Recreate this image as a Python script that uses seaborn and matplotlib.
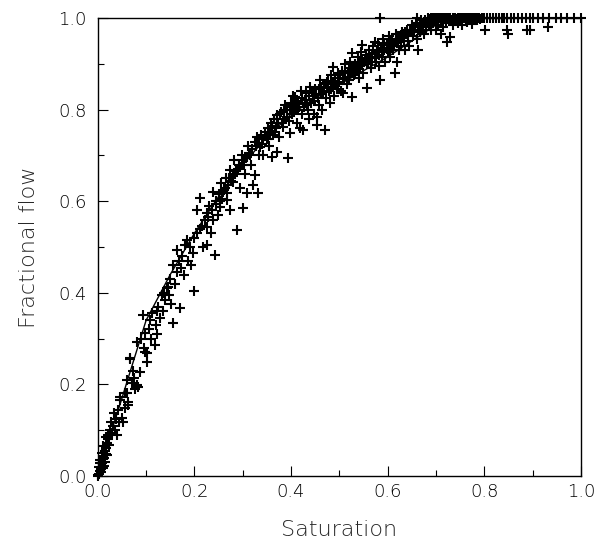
import matplotlib
matplotlib.use("Agg")
import matplotlib.pyplot as plt
import seaborn as sns
import pandas as pd
from matplotlib.ticker import MultipleLocator, FixedLocator, FixedFormatter

# ---------------- data ----------------
curve_saturation = [0.0, 0.02, 0.05, 0.10, 0.15, 0.20, 0.25, 0.30, 0.35, 0.40,
                    0.45, 0.50, 0.55, 0.60, 0.65, 0.70, 0.72, 1.0]
curve_flow = [0.0, 0.07, 0.17, 0.34, 0.44, 0.53, 0.61, 0.68, 0.74, 0.79,
              0.825, 0.855, 0.885, 0.915, 0.95, 0.985, 1.0, 1.0]

sat_low = [0.000, 0.002, 0.004, 0.003, 0.006, 0.008, 0.005, 0.010, 0.012, 0.009,
           0.014, 0.015, 0.018, 0.011, 0.019, 0.020, 0.022, 0.017, 0.024, 0.021,
           0.025, 0.027, 0.030, 0.031, 0.033, 0.035, 0.037, 0.039, 0.041, 0.043,
           0.001, 0.007, 0.013, 0.016, 0.004]
flow_low = [0.000, 0.005, 0.012, 0.020, 0.008, 0.028, 0.035, 0.018, 0.040, 0.050,
            0.030, 0.055, 0.062, 0.065, 0.072, 0.045, 0.080, 0.085, 0.068, 0.090,
            0.100, 0.118, 0.095, 0.110, 0.137, 0.100, 0.125, 0.090, 0.144, 0.118,
            0.002, 0.015, 0.022, 0.048, 0.028]

sat_a = [0.046, 0.046, 0.050, 0.052, 0.056, 0.056, 0.060, 0.060, 0.062, 0.062,
         0.066, 0.066, 0.070, 0.072, 0.075, 0.078, 0.081, 0.081, 0.083, 0.087,
         0.090, 0.093, 0.095, 0.097, 0.097, 0.101, 0.101, 0.105, 0.108, 0.110,
         0.113, 0.118, 0.120, 0.122, 0.125, 0.128, 0.132, 0.135, 0.138, 0.140,
         0.143, 0.145, 0.148, 0.150, 0.152, 0.156, 0.156, 0.160, 0.164, 0.165,
         0.168, 0.170, 0.172, 0.175, 0.178, 0.180, 0.184, 0.186, 0.190, 0.193,
         0.197, 0.200, 0.200, 0.123]
flow_a = [0.166, 0.173, 0.127, 0.118, 0.148, 0.181, 0.210, 0.181, 0.162, 0.155,
          0.255, 0.257, 0.203, 0.230, 0.215, 0.190, 0.199, 0.293, 0.194, 0.227,
          0.300, 0.352, 0.280, 0.312, 0.271, 0.249, 0.268, 0.320, 0.340, 0.300,
          0.355, 0.286, 0.330, 0.310, 0.370, 0.345, 0.395, 0.360, 0.400, 0.385,
          0.410, 0.413, 0.395, 0.430, 0.375, 0.334, 0.461, 0.420, 0.493, 0.445,
          0.470, 0.367, 0.455, 0.480, 0.440, 0.505, 0.515, 0.470, 0.500, 0.460,
          0.487, 0.404, 0.520, 0.360]

sat_b = [0.205, 0.205, 0.211, 0.215, 0.218, 0.222, 0.226, 0.226, 0.226, 0.230,
         0.234, 0.238, 0.238, 0.242, 0.245, 0.248, 0.250, 0.253, 0.256, 0.258,
         0.262, 0.265, 0.267, 0.267, 0.270, 0.273, 0.273, 0.276, 0.280, 0.283,
         0.285, 0.288, 0.290, 0.294, 0.294, 0.298, 0.300, 0.302, 0.305, 0.308,
         0.308, 0.312, 0.315, 0.318, 0.321, 0.325, 0.325, 0.329, 0.331, 0.333,
         0.335, 0.338, 0.340, 0.343, 0.346, 0.350, 0.352, 0.355, 0.358, 0.360,
         0.362, 0.365, 0.368, 0.370, 0.370, 0.373, 0.376, 0.380, 0.383, 0.385,
         0.388, 0.391, 0.393, 0.395, 0.398, 0.400,
         0.212, 0.228, 0.236, 0.244, 0.252, 0.259, 0.264, 0.271, 0.279, 0.286,
         0.292, 0.299, 0.306, 0.313, 0.319, 0.327, 0.334, 0.341, 0.347]
flow_b = [0.531, 0.581, 0.607, 0.545, 0.500, 0.560, 0.504, 0.544, 0.574, 0.590,
          0.530, 0.559, 0.620, 0.483, 0.600, 0.570, 0.615, 0.587, 0.640, 0.605,
          0.625, 0.650, 0.603, 0.618, 0.635, 0.581, 0.668, 0.645, 0.642, 0.690,
          0.660, 0.537, 0.670, 0.629, 0.675, 0.700, 0.585, 0.680, 0.660, 0.618,
          0.697, 0.720, 0.700, 0.680, 0.635, 0.657, 0.730, 0.740, 0.618, 0.700,
          0.718, 0.745, 0.725, 0.700, 0.751, 0.735, 0.760, 0.720, 0.770, 0.697,
          0.745, 0.780, 0.760, 0.707, 0.788, 0.770, 0.740, 0.795, 0.762, 0.780,
          0.810, 0.800, 0.694, 0.775, 0.749, 0.815,
          0.540, 0.565, 0.580, 0.595, 0.600, 0.620, 0.630, 0.650, 0.655, 0.665,
          0.680, 0.690, 0.695, 0.705, 0.715, 0.720, 0.728, 0.735, 0.742]

sat_c = [0.403, 0.405, 0.408, 0.410, 0.412, 0.415, 0.418, 0.420, 0.422, 0.425,
         0.427, 0.430, 0.432, 0.435, 0.437, 0.440, 0.442, 0.445, 0.448, 0.450,
         0.453, 0.453, 0.455, 0.458, 0.460, 0.462, 0.465, 0.468, 0.470, 0.472,
         0.475, 0.478, 0.480, 0.483, 0.485, 0.487, 0.490, 0.492, 0.495, 0.498,
         0.500, 0.503, 0.505, 0.507, 0.510, 0.512, 0.515, 0.518, 0.520, 0.522,
         0.525, 0.526, 0.526, 0.530, 0.532, 0.535, 0.538, 0.540, 0.543, 0.545,
         0.547, 0.550, 0.552, 0.555, 0.557, 0.560, 0.562, 0.565, 0.568, 0.570,
         0.573, 0.575, 0.578, 0.580, 0.582, 0.584, 0.586, 0.588, 0.590, 0.593,
         0.595, 0.598, 0.600, 0.603, 0.605, 0.608, 0.610, 0.612, 0.615, 0.617,
         0.619, 0.620, 0.623, 0.625, 0.628, 0.630, 0.633, 0.635, 0.638, 0.640,
         0.643, 0.645, 0.648, 0.650, 0.653, 0.655, 0.658, 0.660, 0.663, 0.665,
         0.668, 0.670, 0.673, 0.675, 0.678, 0.680, 0.683, 0.685, 0.688, 0.690]
flow_c = [0.790, 0.830, 0.828, 0.800, 0.770, 0.812, 0.760, 0.840, 0.790, 0.755,
          0.805, 0.822, 0.836, 0.800, 0.780, 0.850, 0.815, 0.830, 0.790, 0.845,
          0.766, 0.784, 0.825, 0.810, 0.865, 0.835, 0.800, 0.850, 0.755, 0.825,
          0.860, 0.840, 0.815, 0.875, 0.850, 0.893, 0.830, 0.862, 0.845, 0.880,
          0.860, 0.840, 0.885, 0.836, 0.870, 0.900, 0.855, 0.880, 0.865, 0.905,
          0.890, 0.828, 0.924, 0.875, 0.900, 0.885, 0.915, 0.870, 0.895, 0.925,
          0.941, 0.880, 0.905, 0.920, 0.847, 0.900, 0.930, 0.890, 0.915, 0.940,
          0.948, 0.905, 0.925, 0.945, 0.895, 0.865, 0.935, 0.915, 0.955, 0.930,
          0.905, 0.945, 0.925, 0.960, 0.915, 0.940, 0.955, 0.930, 0.880, 0.965,
          0.904, 0.945, 0.930, 0.960, 0.940, 0.970, 0.950, 0.930, 0.965, 0.975,
          0.950, 0.940, 0.970, 0.985, 0.960, 0.975, 0.990, 0.955, 0.930, 0.980,
          0.970, 0.995, 0.985, 0.965, 0.990, 0.975, 1.000, 0.985, 0.995, 0.975]

sat_d = [0.352, 0.356, 0.361, 0.366, 0.372, 0.377, 0.381, 0.386, 0.392, 0.397,
         0.402, 0.407, 0.413, 0.417, 0.423, 0.428, 0.433, 0.438, 0.443, 0.447,
         0.452, 0.457, 0.463, 0.467, 0.473, 0.477, 0.482, 0.487, 0.492, 0.497,
         0.502, 0.507, 0.512, 0.517, 0.523, 0.528, 0.533, 0.538, 0.543, 0.548,
         0.553, 0.558, 0.563, 0.568, 0.573, 0.578, 0.583, 0.588, 0.593, 0.598,
         0.603, 0.607, 0.613, 0.618, 0.622, 0.627, 0.632, 0.637, 0.642, 0.647,
         0.652, 0.657, 0.662, 0.667, 0.672, 0.677, 0.682, 0.687, 0.692, 0.697,
         0.702, 0.708, 0.712, 0.718, 0.722, 0.728, 0.732, 0.738, 0.742, 0.748,
         0.752, 0.758, 0.762, 0.768, 0.772, 0.778, 0.782, 0.788, 0.792, 0.798]
flow_d = [0.735, 0.750, 0.765, 0.752, 0.780, 0.790, 0.770, 0.800, 0.785, 0.805,
          0.808, 0.795, 0.820, 0.805, 0.825, 0.815, 0.810, 0.830, 0.840, 0.820,
          0.835, 0.845, 0.850, 0.838, 0.855, 0.862, 0.845, 0.858, 0.870, 0.855,
          0.875, 0.868, 0.880, 0.872, 0.885, 0.895, 0.880, 0.892, 0.905, 0.898,
          0.910, 0.902, 0.915, 0.922, 0.912, 0.930, 0.920, 0.935, 0.942, 0.932,
          0.945, 0.950, 0.942, 0.955, 0.948, 0.962, 0.958, 0.970, 0.962, 0.975,
          0.972, 0.980, 0.975, 0.988, 0.982, 0.995, 0.990, 0.998, 0.993, 1.000,
          0.998, 1.000, 0.996, 1.000, 0.997, 1.000, 0.995, 1.000, 0.997, 1.000,
          0.996, 1.000, 0.998, 1.000, 0.996, 1.000, 0.998, 1.000, 0.997, 1.000]

sat_top = [0.584, 0.660, 0.690, 0.695, 0.700, 0.705, 0.710, 0.715, 0.720, 0.725,
           0.730, 0.735, 0.740, 0.745, 0.750, 0.755, 0.760, 0.765, 0.770, 0.775,
           0.780, 0.785, 0.790, 0.795, 0.800, 0.806, 0.812, 0.818, 0.824, 0.830,
           0.836, 0.842, 0.848, 0.855, 0.862, 0.870, 0.878, 0.886, 0.894, 0.902,
           0.912, 0.922, 0.935, 0.948, 0.960, 0.972, 0.985, 1.000,
           0.695, 0.700, 0.705, 0.710, 0.715, 0.720, 0.723, 0.729, 0.735, 0.745,
           0.755, 0.765, 0.775, 0.785, 0.801, 0.847, 0.850, 0.888, 0.895, 0.932,
           0.700, 0.710]
flow_top = [1.000, 1.000, 1.000, 1.000, 1.000, 1.000, 1.000, 1.000, 1.000, 1.000,
            1.000, 1.000, 1.000, 1.000, 1.000, 1.000, 1.000, 1.000, 1.000, 1.000,
            1.000, 1.000, 1.000, 1.000, 1.000, 1.000, 1.000, 1.000, 1.000, 1.000,
            1.000, 1.000, 1.000, 1.000, 1.000, 1.000, 1.000, 1.000, 1.000, 1.000,
            1.000, 1.000, 1.000, 1.000, 1.000, 1.000, 1.000, 1.000,
            0.990, 0.995, 0.985, 0.992, 0.980, 0.990, 0.948, 0.959, 0.985, 0.990,
            0.985, 0.992, 0.988, 0.995, 0.974, 0.974, 0.965, 0.974, 0.975, 0.980,
            0.975, 0.965]

tick_values = [0.0, 0.2, 0.4, 0.6, 0.8, 1.0]
tick_labels = ["0.0", "0.2", "0.4", "0.6", "0.8", "1.0"]

# ---------------- plotting ----------------
sns.set_style("ticks")
plt.rcParams["font.family"] = ["DejaVu Sans"]

points = pd.DataFrame({
    "Saturation": sat_low + sat_a + sat_b + sat_c + sat_d + sat_top,
    "Fractional flow": flow_low + flow_a + flow_b + flow_c + flow_d + flow_top,
})
curve = pd.DataFrame({"Saturation": curve_saturation, "Fractional flow": curve_flow})

fig = plt.figure(figsize=(6.0, 5.4), dpi=100)
ax = fig.add_axes([0.163, 0.1185, 0.805, 0.848])

sns.scatterplot(data=points, x="Saturation", y="Fractional flow", ax=ax,
                marker="+", color="black", s=60, linewidth=1.5, clip_on=False,
                zorder=3)
sns.lineplot(data=curve, x="Saturation", y="Fractional flow", ax=ax,
             color="black", linewidth=1.0, sort=False, estimator=None, zorder=4)

ax.set_xlim(0, 1)
ax.set_ylim(0, 1)
for spine in ax.spines.values():
    spine.set_visible(True)
    spine.set_color("black")
    spine.set_linewidth(1.0)

ax.xaxis.set_major_locator(FixedLocator(tick_values))
ax.xaxis.set_major_formatter(FixedFormatter(tick_labels))
ax.yaxis.set_major_locator(FixedLocator(tick_values))
ax.yaxis.set_major_formatter(FixedFormatter(tick_labels))
ax.xaxis.set_minor_locator(MultipleLocator(0.1))
ax.yaxis.set_minor_locator(MultipleLocator(0.1))
ax.tick_params(which="both", direction="in", top=False, right=False,
               colors="black", width=0.8)
ax.tick_params(which="major", length=7)
ax.tick_params(which="minor", length=4)
ax.tick_params(axis="x", which="major", pad=5, labelsize=13)
ax.tick_params(axis="y", which="major", pad=8, labelsize=13)
for lab in ax.get_xticklabels() + ax.get_yticklabels():
    lab.set_fontweight("light")

ax.set_xlabel("Saturation", fontsize=16, fontweight="light", labelpad=14)
ax.set_ylabel("Fractional flow", fontsize=16, fontweight="light", labelpad=14)

fig.savefig("out.png", dpi=100)
